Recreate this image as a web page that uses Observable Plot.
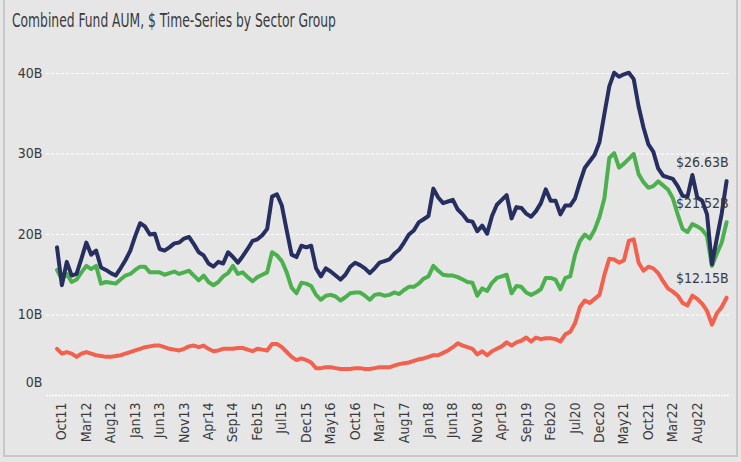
<!DOCTYPE html>
<html><head><meta charset="utf-8">
<script src="https://cdn.jsdelivr.net/npm/d3@7"></script>
<script src="https://cdn.jsdelivr.net/npm/@observablehq/plot@0.6"></script>
<style>
html,body{margin:0;padding:0;background:#e6e6e6;}
#wrap{position:relative;width:741px;height:462px;background:#e6e6e6;overflow:hidden;font-family:"Liberation Sans Narrow","DejaVu Sans Condensed",Roboto,sans-serif;}
#frame{position:absolute;left:3px;top:-5px;width:735px;height:462px;border:2px solid #c8c8c8;box-sizing:border-box;}
#title{position:absolute;left:12px;top:9px;font-size:19px;color:#3a3a3a;white-space:nowrap;transform:scaleX(0.72);transform-origin:0 0;}
#chart{position:absolute;left:0;top:50px;}
</style></head>
<body>
<div id="wrap"><div id="frame"></div><div id="title">Combined Fund AUM, $ Time-Series by Sector Group</div><div id="chart"></div></div>
<script>
// Monthly values, Sep 2011 – Feb 2023 ($B)
const navy = [18.4,13.7,16.6,14.9,15.1,17.0,19.0,17.5,18.0,15.9,15.6,15.2,14.9,15.8,16.8,18.0,19.8,21.4,21.0,20.0,
20.1,18.2,18.0,18.4,18.9,19.0,19.5,19.7,18.8,17.8,17.4,16.4,16.0,16.6,16.4,17.8,17.2,16.5,17.3,18.2,
19.2,19.4,19.9,20.7,24.7,25.0,23.6,20.5,17.5,17.2,18.6,18.4,18.6,15.8,14.8,15.8,15.4,14.9,14.4,15.0,
16.0,16.5,16.2,15.8,15.2,15.8,16.5,16.7,16.9,17.6,18.1,19.0,20.0,20.5,21.5,21.9,22.3,25.7,24.6,23.9,
24.1,24.3,23.1,22.5,21.7,21.6,20.4,21.1,20.1,22.3,23.7,24.3,24.9,22.0,23.4,23.3,22.6,22.2,22.9,23.9,
25.6,24.2,24.2,22.5,23.6,23.6,24.5,26.5,28.3,29.1,29.9,31.5,35.0,38.4,40.1,39.6,39.9,40.1,39.3,35.9,
33.3,31.2,30.3,28.2,27.3,27.1,26.9,26.0,24.8,24.7,27.4,24.6,24.2,22.5,16.3,19.5,22.6,26.63];
const green = [15.6,14.4,15.1,14.1,14.4,15.3,16.1,15.7,16.1,13.9,14.1,14.0,13.9,14.4,14.9,15.1,15.6,16.0,16.0,15.3,
15.3,15.3,15.0,15.2,15.4,15.1,15.3,15.5,14.9,14.3,14.9,14.1,13.7,14.1,14.8,15.2,16.1,15.1,15.3,14.7,
14.2,14.7,15.0,15.3,17.8,17.4,16.7,15.3,13.4,12.7,14.0,13.9,13.6,12.5,11.9,12.4,12.5,12.3,11.8,12.2,
12.7,12.8,12.8,12.4,11.9,12.5,12.6,12.4,12.5,12.8,12.6,13.1,13.5,13.5,13.9,14.5,14.8,16.1,15.5,15.0,
14.9,14.9,14.7,14.4,14.1,14.0,12.4,13.3,13.0,14.0,14.6,14.8,15.0,12.7,13.6,13.5,12.8,12.5,12.8,13.2,
14.6,14.6,14.4,13.2,14.6,14.8,17.5,19.2,20.0,19.5,20.6,22.2,24.5,29.5,30.1,28.3,28.8,29.4,30.0,27.5,
26.5,25.8,26.0,26.6,26.1,25.6,24.5,22.5,20.7,20.3,21.3,21.0,20.6,19.8,16.1,17.6,19.0,21.52];
const red = [5.8,5.2,5.4,5.2,4.8,5.2,5.4,5.2,5.0,4.9,4.8,4.8,4.9,5.0,5.2,5.4,5.6,5.8,6.0,6.1,
6.2,6.2,6.0,5.8,5.7,5.6,5.8,6.1,6.2,6.0,6.2,5.8,5.5,5.6,5.8,5.8,5.8,5.9,5.9,5.7,
5.5,5.8,5.7,5.6,6.4,6.4,6.0,5.4,4.8,4.4,4.6,4.4,4.1,3.4,3.4,3.5,3.5,3.4,3.3,3.3,
3.3,3.4,3.4,3.3,3.3,3.4,3.5,3.5,3.5,3.7,3.9,4.0,4.1,4.3,4.5,4.6,4.8,5.0,5.0,5.3,
5.6,6.0,6.5,6.2,6.0,5.8,5.1,5.5,5.0,5.5,5.8,6.1,6.6,6.2,6.6,6.8,7.2,6.7,7.2,7.0,
7.1,7.1,7.0,6.7,7.6,7.9,9.0,11.0,11.8,11.5,12.0,12.5,15.0,17.0,16.9,16.5,16.8,19.2,19.4,16.5,
15.5,16.0,15.8,15.2,14.2,13.3,12.9,12.4,11.5,11.2,12.4,12.0,11.4,10.5,8.8,10.2,11.0,12.15];
const seriesNames = ["Group A", "Group B", "Group C"];
const seriesColors = ["#f2604e", "#4cb04f", "#262f5f"];
const endLabels = ["$12.15B", "$21.52B", "$26.63B"];
const tickLabels = ["Oct11","Mar12","Aug12","Jan13","Jun13","Nov13","Apr14","Sep14","Feb15","Jul15","Dec15","May16","Oct16","Mar17","Aug17","Jan18","Jun18","Nov18","Apr19","Sep19","Feb20","Jul20","Dec20","May21","Oct21","Mar22","Aug22"];
const yTicks = [0, 10, 20, 30, 40];

const allSeries = [red, green, navy];
const rows = [];
allSeries.forEach((vals, s) => vals.forEach((v, i) => rows.push({m: i, v, s: seriesNames[s]})));
const lastRows = allSeries.map((vals, s) => ({m: vals.length - 1, v: vals[vals.length - 1], s: seriesNames[s], label: endLabels[s]}));
const tickPos = tickLabels.map((_, k) => 1 + 5 * k);

const chart = Plot.plot({
  width: 741, height: 410,
  marginLeft: 46, marginRight: 11, marginTop: 23, marginBottom: 65,
  style: {background: "transparent", fontFamily: "'Liberation Sans Narrow','DejaVu Sans Condensed',Roboto,sans-serif", fontSize: "14px", color: "#3a3a3a"},
  x: {domain: [-2.15, 137.8], axis: null, label: null},
  y: {domain: [0, 40], axis: null, label: null},
  color: {domain: seriesNames, range: seriesColors},
  marks: [
    Plot.ruleY(yTicks.slice(1), {stroke: "#fff", strokeDasharray: "3,2", strokeWidth: 1}),
    Plot.ruleY([0], {stroke: "#fff", strokeDasharray: "2,1", strokeWidth: 1.5}),
    Plot.axisY(yTicks.slice(1), {tickSize: 0, tickPadding: 4, label: null, tickFormat: d => d + "B"}),
    Plot.axisY([0], {tickSize: 0, tickPadding: 4, label: null, tickFormat: d => d + "B", dy: -13}),
    Plot.axisX(tickPos, {tickSize: 0, tickPadding: 7, tickRotate: -90, label: null, tickFormat: d => tickLabels[(d - 1) / 5]}),
    Plot.line(rows, {x: "m", y: "v", z: "s", stroke: "s", strokeWidth: 4, strokeLinejoin: "round", strokeLinecap: "round"}),
    Plot.text(lastRows, {x: "m", y: "v", text: "label", textAnchor: "end", dx: 2, dy: -19, fill: "#3a3a3a", fontSize: 14})
  ]
});
document.getElementById("chart").appendChild(chart);
</script>
</body></html>
